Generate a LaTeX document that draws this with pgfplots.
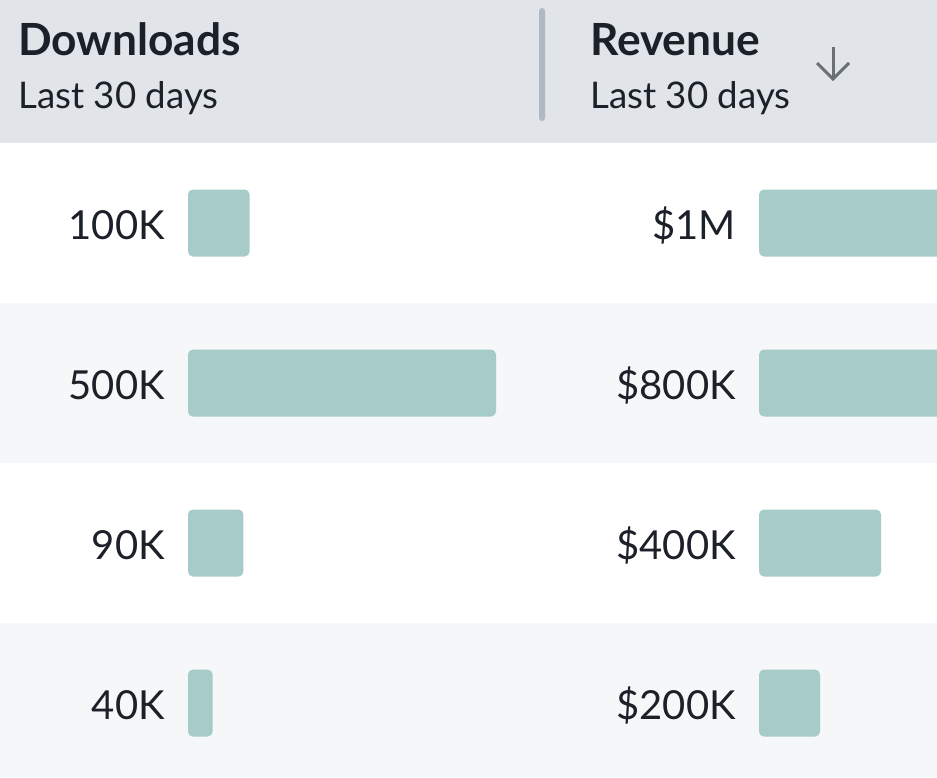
\documentclass[border=0pt]{standalone}
\usepackage{pgfplots}
\pgfplotsset{compat=1.18}
\usepackage{fontspec}
\setmainfont{Lato}
\definecolor{hdr}{HTML}{E1E4E9}
\definecolor{alt}{HTML}{F6F7F9}
\definecolor{ink}{HTML}{1C2029}
\definecolor{barc}{HTML}{A6CBC8}
\definecolor{divc}{HTML}{B0B8C4}
\definecolor{arrc}{HTML}{6B6F76}
\pgfplotstableread{
v y
100 0
500 1
90 2
40 3
}\downloads
\pgfplotstableread{
v y
1000 0
800 1
400 2
200 3
}\revenue
\pgfplotsset{rowbars/.style={
  anchor=north west, y=160pt, y dir=reverse, xmin=0, ymin=-0.5, ymax=3.5,
  axis line style={draw=none}, xtick=\empty, ytick={0,1,2,3},
  major tick length=0pt, tick style={draw=none},
  yticklabel style={anchor=base east, inner sep=0pt, xshift=-23pt, yshift=-16pt,
    text=ink, font=\fontsize{40}{44}\selectfont},
  xbar, bar width=67pt}}
\begin{document}
\begin{tikzpicture}[x=1pt,y=1pt]
\useasboundingbox (0,0) rectangle (937,-777);
\fill[white] (0,0) rectangle (937,-777);
\fill[hdr] (0,0) rectangle (937,-143);
\fill[alt] (0,-303) rectangle (937,-463);
\fill[alt] (0,-623) rectangle (937,-777);
\fill[divc, rounded corners=3pt] (539,-8) rectangle (545,-121);
\node[anchor=base west, inner sep=0pt, text=ink, font=\fontsize{44.3}{48}\selectfont\bfseries] at (18,-55) {Downloads};
\node[anchor=base west, inner sep=0pt, text=ink, font=\fontsize{36.7}{40}\selectfont] at (18,-108) {Last 30 days};
\node[anchor=base west, inner sep=0pt, text=ink, font=\fontsize{44.3}{48}\selectfont\bfseries] at (590,-55) {Revenue};
\node[anchor=base west, inner sep=0pt, text=ink, font=\fontsize{36.7}{40}\selectfont] at (590,-108) {Last 30 days};
\draw[arrc, line width=3pt] (833,-47) -- (833,-79);
\draw[arrc, line width=3pt, line join=miter] (817,-63) -- (833,-79) -- (849,-63);
\begin{axis}[rowbars, at={(188pt,-143pt)}, x=0.616pt, xmax=700, clip=false,
  yticklabels={100K,500K,90K,40K}]
\addplot[fill=barc, draw=none, rounded corners=5pt] table[x=v, y=y] {\downloads};
\end{axis}
\begin{axis}[rowbars, at={(759pt,-143pt)}, x=0.305pt, xmax=583.6, clip=true,
  yticklabels={\$1M,\$800K,\$400K,\$200K}]
\addplot[fill=barc, draw=none, rounded corners=5pt] table[x=v, y=y] {\revenue};
\end{axis}
\end{tikzpicture}
\end{document}
